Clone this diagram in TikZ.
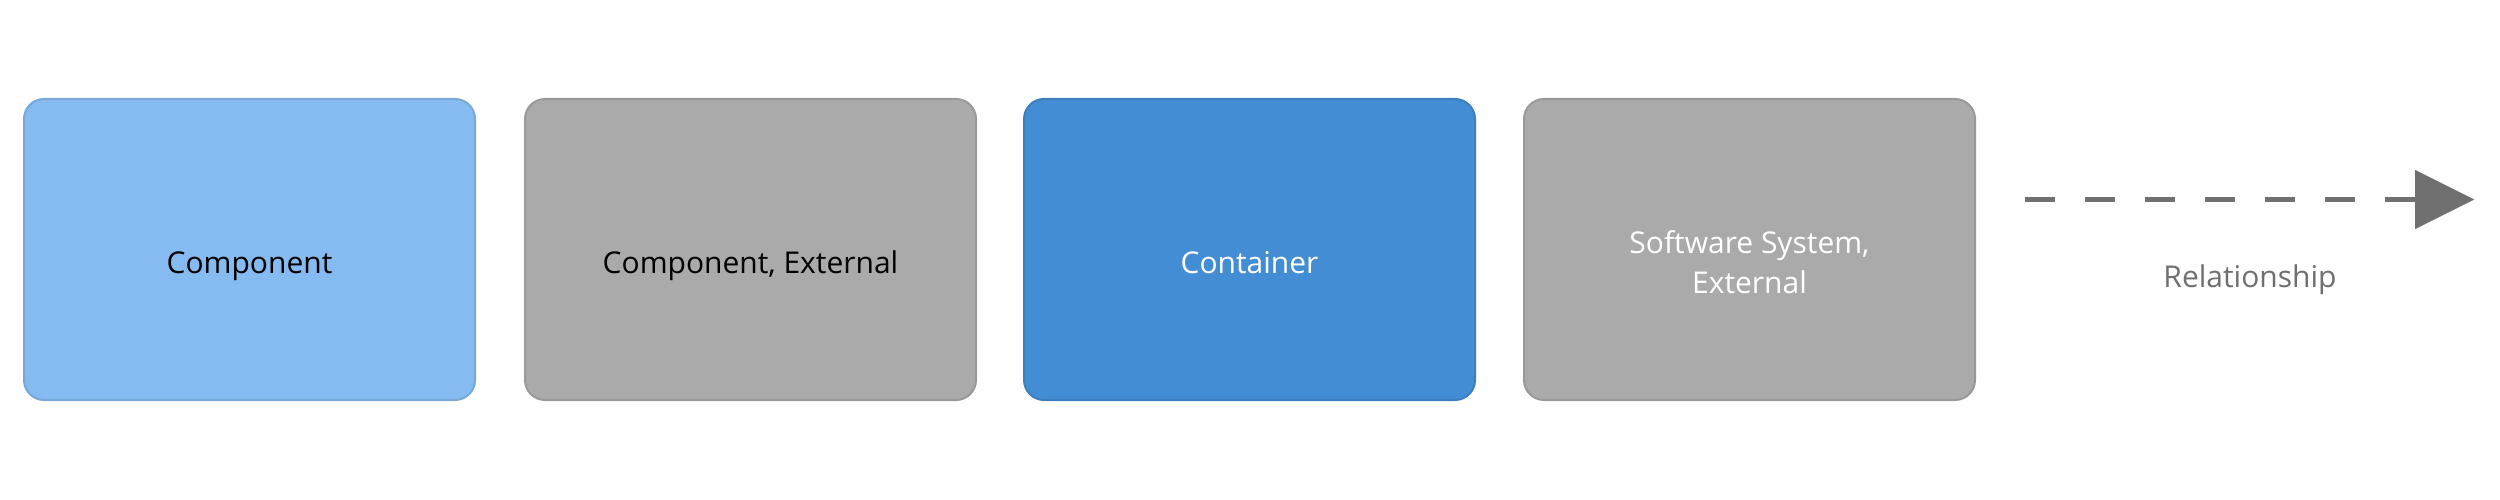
\documentclass[tikz,border=0pt]{standalone}
\usepackage{fontspec}
\setmainfont{Open Sans}
\usetikzlibrary{arrows.meta}
\definecolor{compfill}{HTML}{85BBF0}
\definecolor{compline}{HTML}{78A8D8}
\definecolor{extfill}{HTML}{AAAAAA}
\definecolor{extline}{HTML}{999999}
\definecolor{contfill}{HTML}{438DD5}
\definecolor{contline}{HTML}{3C7FC0}
\definecolor{relcol}{HTML}{707070}
\begin{document}
\begin{tikzpicture}[x=1pt,y=1pt,
  card/.style={draw, line width=2pt, rounded corners=20pt, minimum width=451pt, minimum height=301pt, inner sep=0pt},
  lbl/.style={font=\fontsize{30}{40}\selectfont, anchor=base, inner sep=0pt},
  rel/.style={draw=relcol, line width=5.5pt, dash pattern=on 30pt off 30pt,
    -{Triangle[length=59pt,width=59pt,line width=0.01pt,fill=relcol]}}
]
\fill[white] (0,0) rectangle (2500,-500);
\useasboundingbox (0,0) rectangle (2500,-500);

\node[card, fill=compfill, draw=compline] (comp) at (249.5,-249.5) {};
\node[card, fill=extfill, draw=extline] (compext) at (750.5,-249.5) {};
\node[card, fill=contfill, draw=contline] (cont) at (1249.5,-249.5) {};
\node[card, fill=extfill, draw=extline] (sysext) at (1749.5,-249.5) {};

\node[lbl, text=black] (compT) at ([yshift=-23.5pt]comp.center) {Component};
\node[lbl, text=black] (compextT) at ([yshift=-23.5pt]compext.center) {Component, External};
\node[lbl, text=white] (contT) at ([yshift=-23.5pt]cont.center) {Container};
\node[lbl, text=white] (sysextT) at ([yshift=-43.5pt]sysext.center)
  {\begin{tabular}[b]{@{}c@{}}Software System,\\External\end{tabular}};

\coordinate (rs) at (2025,-199.5);
\coordinate (re) at (2474,-199.5);
\draw[rel] (rs) -- (re);
\node[lbl, text=relcol] (relT) at (2250,-287) {Relationship};
\end{tikzpicture}
\end{document}
